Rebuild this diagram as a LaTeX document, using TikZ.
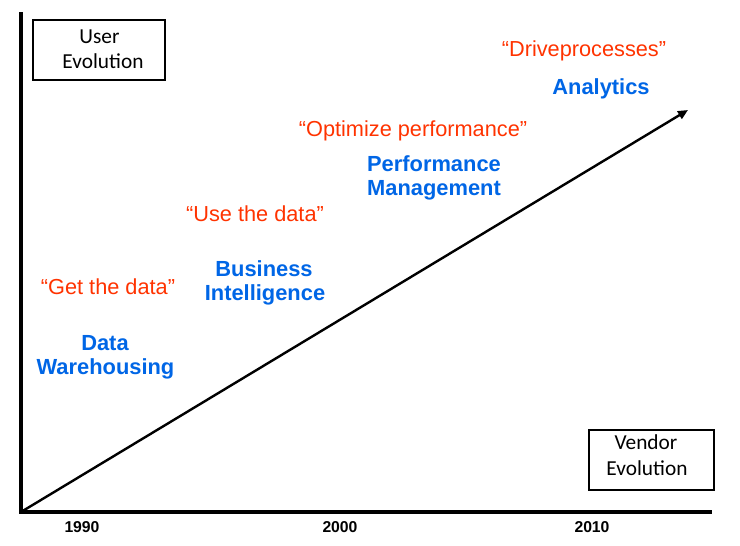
\documentclass[tikz,border=0pt]{standalone}
\usepackage{fontspec}
\setmainfont{Liberation Sans}
\newfontfamily\boxfont{Carlito}
\usetikzlibrary{arrows.meta}
\definecolor{quotered}{RGB}{255,51,0}
\definecolor{stageblue}{RGB}{0,102,230}
\tikzset{
  quote/.style={anchor=base, inner sep=0pt, text=quotered, font=\fontsize{16.3}{18}\selectfont},
  stage/.style={anchor=base, inner sep=0pt, text=stageblue, font=\fontsize{16.4}{18}\selectfont\bfseries},
  yearlbl/.style={anchor=base, inner sep=0pt, font=\fontsize{11.8}{13}\selectfont\bfseries},
  boxtxt/.style={anchor=base, inner sep=0pt, font=\boxfont\fontsize{16}{19}\selectfont},
  evobox/.style={draw, line width=1pt, minimum width=#1*0.75pt, minimum height=60*0.75pt, inner sep=0pt},
  axis/.style={line width=2.3pt},
  trend/.style={line width=1.8pt, -{Triangle[length=7.5pt,width=6.5pt]}}
}
\begin{document}
\begin{tikzpicture}[x=0.75pt,y=-0.75pt]
\useasboundingbox (0,0) rectangle (740,546);
\fill[white] (0,0) rectangle (740,546);
% axes
\coordinate (ytop) at (21,12);
\coordinate (origin) at (21,512);
\coordinate (xend) at (712,512);
\coordinate (tip) at (688,110);
\draw[axis] (ytop) -- (origin) -- (xend);
\draw[trend] (origin) -- (tip);
% boxes
\node[evobox=132] (ubox) at (99,50) {};
\node[boxtxt] (u1) at (99.5,43.3) {User};
\node[boxtxt] (u2) at (103,68.3) {Evolution};
\node[evobox=125] (vbox) at (651.5,460) {};
\node[boxtxt] (v1) at (646,449.3) {Vendor};
\node[boxtxt] (v2) at (647,475) {Evolution};
% years
\node[yearlbl] (y1990) at (82,532) {1990};
\node[yearlbl] (y2000) at (340,532) {2000};
\node[yearlbl] (y2010) at (592,532) {2010};
% quotes
\node[quote] (q1) at (108,294.3) {“Get the data”};
\node[quote] (q2) at (255,221) {“Use the data”};
\node[quote] (q3) at (413,136.7) {“Optimize performance”};
\node[quote] (q4) at (584,56) {“Driveprocesses”};
% stages
\node[stage] (s1a) at (105,350.7) {Data};
\node[stage] (s1b) at (105.5,374.7) {Warehousing};
\node[stage] (s2a) at (264,276) {Business};
\node[stage] (s2b) at (265,300) {Intelligence};
\node[stage] (s3a) at (434,171) {Performance};
\node[stage] (s3b) at (434,195) {Management};
\node[stage] (s4) at (601,94.3) {Analytics};
\end{tikzpicture}
\end{document}
